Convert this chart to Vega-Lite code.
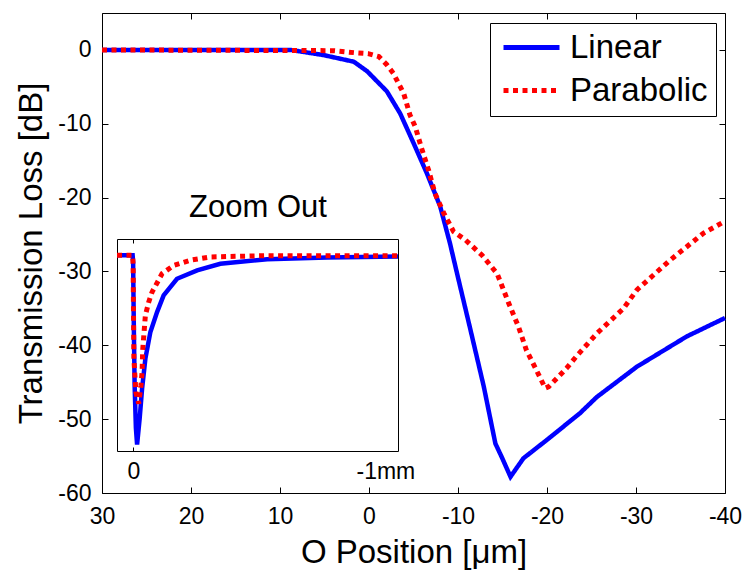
{
  "$schema": "https://vega.github.io/schema/vega-lite/v6.json",
  "width": 623,
  "height": 480,
  "autosize": "none",
  "padding": {"left": 102, "top": 13, "right": 26, "bottom": 86},
  "background": "white",
  "config": {
    "view": {"stroke": null},
    "font": "Liberation Sans",
    "axis": {
      "grid": false,
      "domainColor": "black",
      "domainWidth": 1,
      "tickColor": "black",
      "tickWidth": 1,
      "labelColor": "black",
      "titleColor": "black",
      "labelFont": "Liberation Sans",
      "titleFont": "Liberation Sans",
      "labelFontSize": 23,
      "titleFontSize": 33,
      "titleFontWeight": "normal",
      "labelFlush": false,
      "labelOverlap": false
    },
    "legend": {
      "strokeColor": "black",
      "fillColor": "white",
      "padding": 8,
      "labelFont": "Liberation Sans",
      "labelFontSize": 33,
      "labelColor": "black",
      "labelOffset": 8,
      "symbolType": "stroke",
      "symbolSize": 3136,
      "symbolStrokeWidth": 5,
      "clipHeight": 33,
      "rowPadding": 9,
      "symbolOffset": 3,
      "cornerRadius": 0
    }
  },
  "datasets": {
    "main": [
      {"pos": 30, "loss": 0, "series": "Linear"},
      {"pos": 8.8, "loss": 0, "series": "Linear"},
      {"pos": 5.1, "loss": -0.7, "series": "Linear"},
      {"pos": 1.7, "loss": -1.6, "series": "Linear"},
      {"pos": 0.2, "loss": -2.9, "series": "Linear"},
      {"pos": -2.0, "loss": -5.6, "series": "Linear"},
      {"pos": -3.5, "loss": -8.6, "series": "Linear"},
      {"pos": -5.0, "loss": -12.6, "series": "Linear"},
      {"pos": -6.5, "loss": -16.7, "series": "Linear"},
      {"pos": -8.0, "loss": -21.2, "series": "Linear"},
      {"pos": -9.1, "loss": -26.2, "series": "Linear"},
      {"pos": -9.9, "loss": -30.3, "series": "Linear"},
      {"pos": -11.4, "loss": -37.9, "series": "Linear"},
      {"pos": -12.9, "loss": -45.6, "series": "Linear"},
      {"pos": -14.2, "loss": -53.3, "series": "Linear"},
      {"pos": -14.9, "loss": -55.1, "series": "Linear"},
      {"pos": -15.9, "loss": -57.8, "series": "Linear"},
      {"pos": -17.35, "loss": -55.3, "series": "Linear"},
      {"pos": -20.0, "loss": -52.8, "series": "Linear"},
      {"pos": -23.7, "loss": -49.2, "series": "Linear"},
      {"pos": -25.6, "loss": -47.0, "series": "Linear"},
      {"pos": -30.1, "loss": -42.9, "series": "Linear"},
      {"pos": -35.7, "loss": -38.8, "series": "Linear"},
      {"pos": -40, "loss": -36.3, "series": "Linear"},
      {"pos": 30, "loss": 0, "series": "Parabolic"},
      {"pos": 4.0, "loss": -0.1, "series": "Parabolic"},
      {"pos": 1.4, "loss": -0.4, "series": "Parabolic"},
      {"pos": 0.1, "loss": -0.5, "series": "Parabolic"},
      {"pos": -1.1, "loss": -0.9, "series": "Parabolic"},
      {"pos": -2.0, "loss": -2.0, "series": "Parabolic"},
      {"pos": -2.75, "loss": -3.2, "series": "Parabolic"},
      {"pos": -3.3, "loss": -4.5, "series": "Parabolic"},
      {"pos": -3.9, "loss": -5.9, "series": "Parabolic"},
      {"pos": -4.6, "loss": -8.8, "series": "Parabolic"},
      {"pos": -5.2, "loss": -10.4, "series": "Parabolic"},
      {"pos": -5.9, "loss": -13.3, "series": "Parabolic"},
      {"pos": -6.7, "loss": -16.3, "series": "Parabolic"},
      {"pos": -7.4, "loss": -19.4, "series": "Parabolic"},
      {"pos": -8.4, "loss": -22.1, "series": "Parabolic"},
      {"pos": -9.5, "loss": -24.6, "series": "Parabolic"},
      {"pos": -10.8, "loss": -25.7, "series": "Parabolic"},
      {"pos": -12.7, "loss": -27.8, "series": "Parabolic"},
      {"pos": -14.4, "loss": -30.3, "series": "Parabolic"},
      {"pos": -15.7, "loss": -34.3, "series": "Parabolic"},
      {"pos": -16.8, "loss": -37.5, "series": "Parabolic"},
      {"pos": -17.7, "loss": -40.7, "series": "Parabolic"},
      {"pos": -18.7, "loss": -43.1, "series": "Parabolic"},
      {"pos": -19.8, "loss": -45.8, "series": "Parabolic"},
      {"pos": -20.2, "loss": -45.6, "series": "Parabolic"},
      {"pos": -22.2, "loss": -43.1, "series": "Parabolic"},
      {"pos": -23.3, "loss": -41.5, "series": "Parabolic"},
      {"pos": -25.6, "loss": -38.4, "series": "Parabolic"},
      {"pos": -28.6, "loss": -35.0, "series": "Parabolic"},
      {"pos": -30.1, "loss": -32.5, "series": "Parabolic"},
      {"pos": -33.8, "loss": -28.5, "series": "Parabolic"},
      {"pos": -37.6, "loss": -24.8, "series": "Parabolic"},
      {"pos": -40, "loss": -23.2, "series": "Parabolic"}
    ],
    "inset": [
      {"mm": 0.065, "loss": 0, "series": "Linear"},
      {"mm": 0.003, "loss": 0, "series": "Linear"},
      {"mm": 0.001, "loss": -2, "series": "Linear"},
      {"mm": 0.0, "loss": -10, "series": "Linear"},
      {"mm": -0.002, "loss": -23.5, "series": "Linear"},
      {"mm": -0.005, "loss": -40, "series": "Linear"},
      {"mm": -0.010, "loss": -53, "series": "Linear"},
      {"mm": -0.0147, "loss": -58, "series": "Linear"},
      {"mm": -0.025, "loss": -50, "series": "Linear"},
      {"mm": -0.0345, "loss": -40.9, "series": "Linear"},
      {"mm": -0.0476, "loss": -31.7, "series": "Linear"},
      {"mm": -0.0675, "loss": -23.5, "series": "Linear"},
      {"mm": -0.094, "loss": -17.4, "series": "Linear"},
      {"mm": -0.120, "loss": -12.3, "series": "Linear"},
      {"mm": -0.173, "loss": -7.2, "series": "Linear"},
      {"mm": -0.253, "loss": -4.6, "series": "Linear"},
      {"mm": -0.345, "loss": -2.6, "series": "Linear"},
      {"mm": -0.531, "loss": -1.2, "series": "Linear"},
      {"mm": -0.769, "loss": -0.7, "series": "Linear"},
      {"mm": -1.05, "loss": -0.4, "series": "Linear"},
      {"mm": 0.065, "loss": 0, "series": "Parabolic"},
      {"mm": 0.003, "loss": 0, "series": "Parabolic"},
      {"mm": 0.001, "loss": -3, "series": "Parabolic"},
      {"mm": -0.002, "loss": -31.7, "series": "Parabolic"},
      {"mm": -0.010, "loss": -42, "series": "Parabolic"},
      {"mm": -0.021, "loss": -45.5, "series": "Parabolic"},
      {"mm": -0.030, "loss": -40, "series": "Parabolic"},
      {"mm": -0.0345, "loss": -35.8, "series": "Parabolic"},
      {"mm": -0.037, "loss": -29, "series": "Parabolic"},
      {"mm": -0.0476, "loss": -18.4, "series": "Parabolic"},
      {"mm": -0.061, "loss": -14.3, "series": "Parabolic"},
      {"mm": -0.074, "loss": -11.3, "series": "Parabolic"},
      {"mm": -0.114, "loss": -5.6, "series": "Parabolic"},
      {"mm": -0.160, "loss": -3.1, "series": "Parabolic"},
      {"mm": -0.226, "loss": -1.5, "series": "Parabolic"},
      {"mm": -0.306, "loss": -0.5, "series": "Parabolic"},
      {"mm": -0.531, "loss": -0.1, "series": "Parabolic"},
      {"mm": -1.05, "loss": -0.1, "series": "Parabolic"}
    ]
  },
  "layer": [
    {
      "layer": [
        {
          "data": {"name": "main"},
          "transform": [{"filter": "datum.series === 'Linear'"}],
          "mark": {"type": "line", "strokeWidth": 4.5, "strokeCap": "butt", "strokeJoin": "miter"},
          "encoding": {
            "x": {"field": "pos", "type": "quantitative",
              "scale": {"domain": [30, -40], "nice": false, "zero": false},
              "axis": {"orient": "bottom", "values": [30, 20, 10, 0, -10, -20, -30, -40], "tickSize": -6, "labelPadding": 18,
                "labelExpr": "'' + datum.value", "title": "O Position [μm]", "titlePadding": 8}},
            "y": {"field": "loss", "type": "quantitative",
              "scale": {"domain": [-60, 5], "nice": false, "zero": false},
              "axis": {"orient": "left", "values": [0, -10, -20, -30, -40, -50, -60], "tickSize": -6, "labelPadding": 17,
                "labelExpr": "'' + datum.value", "title": "Transmission Loss [dB]", "titlePadding": 9}},
            "color": {"field": "series", "type": "nominal",
              "scale": {"domain": ["Linear", "Parabolic"], "range": ["#0000ff", "#ff0000"]},
              "legend": {"title": null, "orient": "none", "legendX": 388, "legendY": 10}},
            "strokeDash": {"field": "series", "type": "nominal",
              "scale": {"domain": ["Linear", "Parabolic"], "range": [[1, 0], [5, 4.5]]},
              "legend": {"title": null, "orient": "none", "legendX": 388, "legendY": 10}},
            "order": {"field": "pos", "type": "quantitative", "sort": "descending"}
          }
        },
        {
          "data": {"name": "main"},
          "transform": [{"filter": "datum.series === 'Parabolic'"}],
          "mark": {"type": "line", "strokeWidth": 5, "strokeCap": "butt", "strokeJoin": "miter"},
          "encoding": {
            "x": {"field": "pos", "type": "quantitative",
              "scale": {"domain": [30, -40], "nice": false, "zero": false},
              "axis": {"orient": "top", "values": [30, 20, 10, 0, -10, -20, -30, -40], "tickSize": -6, "labels": false, "title": null}},
            "y": {"field": "loss", "type": "quantitative",
              "scale": {"domain": [-60, 5], "nice": false, "zero": false},
              "axis": {"orient": "right", "values": [0, -10, -20, -30, -40, -50, -60], "tickSize": -6, "labels": false, "title": null}},
            "color": {"field": "series", "type": "nominal",
              "scale": {"domain": ["Linear", "Parabolic"], "range": ["#0000ff", "#ff0000"]},
              "legend": {"title": null, "orient": "none", "legendX": 388, "legendY": 10}},
            "strokeDash": {"field": "series", "type": "nominal",
              "scale": {"domain": ["Linear", "Parabolic"], "range": [[1, 0], [5, 4.5]]},
              "legend": {"title": null, "orient": "none", "legendX": 388, "legendY": 10}},
            "order": {"field": "pos", "type": "quantitative", "sort": "descending"}
          }
        }
      ],
      "resolve": {"axis": {"x": "independent", "y": "independent"}}
    },
    {
      "layer": [
        {
          "data": {"name": "inset"},
          "transform": [{"filter": "datum.series === 'Linear'"}],
          "mark": {"type": "line", "strokeWidth": 4.5, "strokeCap": "butt", "strokeJoin": "miter", "color": "#0000ff"},
          "encoding": {
            "x": {"field": "mm", "type": "quantitative",
              "scale": {"domain": [0.065, -1.05], "range": [15, 296], "nice": false, "zero": false},
              "axis": {"orient": "bottom", "offset": -42, "values": [0, -1], "tickSize": -4, "labelPadding": 13,
                "labelExpr": "datum.value == 0 ? '0' : '-1mm'",
                "tickOpacity": {"condition": {"test": "datum.value == -1", "value": 0}, "value": 1},
                "title": null}},
            "y": {"field": "loss", "type": "quantitative",
              "scale": {"domain": [-60, 5], "range": [438, 226], "nice": false, "zero": false},
              "axis": {"orient": "left", "offset": -15, "values": [], "ticks": false, "labels": false, "title": null}},
            "order": {"field": "mm", "type": "quantitative", "sort": "descending"}
          }
        },
        {
          "data": {"name": "inset"},
          "transform": [{"filter": "datum.series === 'Parabolic'"}],
          "mark": {"type": "line", "strokeWidth": 5, "strokeCap": "butt", "strokeJoin": "miter", "color": "#ff0000", "strokeDash": [5, 4.5]},
          "encoding": {
            "x": {"field": "mm", "type": "quantitative",
              "scale": {"domain": [0.065, -1.05], "range": [15, 296], "nice": false, "zero": false},
              "axis": {"orient": "top", "offset": -226, "values": [0], "tickSize": -4, "labels": false,
                "title": "Zoom Out", "titleFontSize": 31, "titlePadding": 15}},
            "y": {"field": "loss", "type": "quantitative",
              "scale": {"domain": [-60, 5], "range": [438, 226], "nice": false, "zero": false},
              "axis": {"orient": "right", "offset": -327, "values": [], "ticks": false, "labels": false, "title": null}},
            "order": {"field": "mm", "type": "quantitative", "sort": "descending"}
          }
        }
      ],
      "resolve": {"axis": {"x": "independent", "y": "independent"}}
    }
  ],
  "resolve": {"scale": {"x": "independent", "y": "independent"}}
}
